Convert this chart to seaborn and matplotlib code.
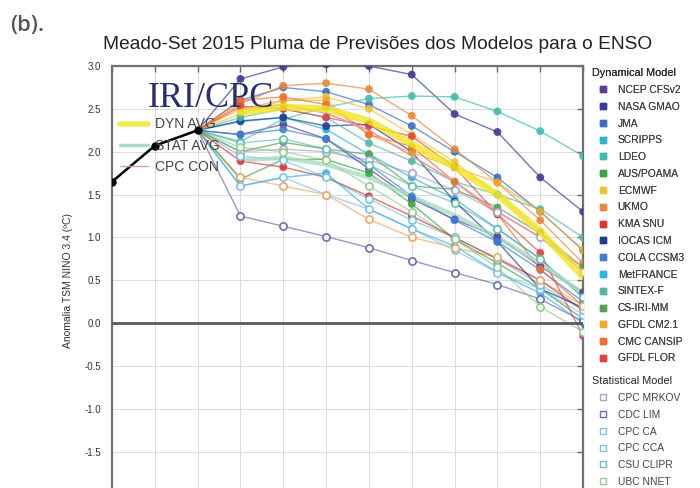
import numpy as np
import pandas as pd
import matplotlib
matplotlib.use("Agg")
import matplotlib.pyplot as plt
from matplotlib.lines import Line2D
import seaborn as sns

seasons = ["Jun", "Jul", "Ago", "SON", "OND", "NDJ", "DJF", "JFM", "FMA", "MAM", "AMJ", "MJJ"]
observed = [1.65, 2.07, 2.25]

dyn_models = ["NCEP CFSv2", "NASA GMAO", "JMA", "SCRIPPS", "LDEO", "AUS/POAMA", "ECMWF", "UKMO",
              "KMA SNU", "IOCAS ICM", "COLA CCSM3", "MetFRANCE", "SINTEX-F", "CS-IRI-MM",
              "GFDL CM2.1", "CMC CANSIP", "GFDL FLOR"]
dyn_colors = ["#5e3c99", "#3b3b9a", "#3a6fc2", "#2ab3d6", "#3fbcaa", "#3fa444", "#f1c232", "#e8883a",
              "#de3434", "#203c90", "#3b82d2", "#33b2f0", "#55b9a2", "#55a352",
              "#f0aa30", "#ef7030", "#e04444"]
dyn_values = [
    [2.20, 2.32, 2.15, 1.80, 1.45, 1.21, 1.01, 0.66, 0.36],
    [2.85, 2.99, 3.02, 3.00, 2.90, 2.44, 2.23, 1.70, 1.30],
    [2.60, 2.75, 2.70, 2.55, 2.30, 2.00, 1.70, 1.30, 0.85],
    [2.35, 2.40, 2.26, 1.97, 1.70, 1.45, 1.10, 0.75, 0.30],
    [2.12, 2.38, 2.52, 2.62, 2.65, 2.64, 2.47, 2.24, 1.95],
    [1.68, 1.91, 1.91, 1.75, 1.39, 0.98, 0.70, 0.40, 0.05],
    [2.44, 2.60, 2.64, 2.50, 2.20, 1.88, 1.50, 1.07, 0.60],
    [2.56, 2.77, 2.80, 2.73, 2.42, 2.03, 1.64, 1.20, 0.70],
    [1.89, 1.82, 1.70, 1.48, 1.25, 1.00, 0.75, 0.50, 0.15],
    [2.36, 2.40, 2.30, 2.32, 2.00, 1.42, 0.95, 0.40, 0.18],
    [2.20, 2.26, 2.15, 1.85, 1.48, 1.20, 0.95, 0.62, 0.25],
    [1.60, 1.70, 1.75, 1.33, 1.10, 0.90, 0.59, 0.35, 0.00],
    [2.40, 2.50, 2.40, 2.10, 1.89, 1.65, 1.50, 1.33, 1.00],
    [2.00, 2.11, 2.03, 1.97, 1.60, 1.56, 1.35, 1.05, 0.65],
    [2.50, 2.60, 2.60, 2.20, 1.99, 1.82, 1.64, 1.30, 0.85],
    [2.60, 2.64, 2.55, 2.20, 2.06, 1.65, 1.27, 0.63, 0.20],
    [2.53, 2.50, 2.40, 2.30, 2.18, 1.82, 1.27, 0.82, -0.15],
]

stat_models = ["CPC MRKOV", "CDC LIM", "CPC CA", "CPC CCA", "CSU CLIPR", "UBC NNET", "FSU REGR"]
stat_colors = ["#aaa4cf", "#6a6fb5", "#8cc0e8", "#74c6e0", "#68c0ae", "#98cc90", "#f0a868"]
stat_values = [
    [2.00, 2.03, 2.00, 1.90, 1.75, 1.55, 1.30, 1.00, 0.60],
    [1.25, 1.13, 1.01, 0.88, 0.73, 0.59, 0.45, 0.28, 0.02],
    [1.60, 1.70, 1.50, 1.33, 1.10, 0.85, 0.59, 0.40, 0.10],
    [1.95, 1.90, 1.70, 1.45, 1.20, 1.00, 0.75, 0.45, 0.15],
    [2.10, 2.15, 2.03, 1.85, 1.60, 1.40, 1.10, 0.75, 0.30],
    [2.05, 2.00, 1.90, 1.60, 1.30, 0.98, 0.65, 0.19, -0.10],
    [1.70, 1.60, 1.50, 1.21, 1.00, 0.88, 0.77, 0.50, 0.20],
]
# the reference legend is cropped after this many statistical entries
stat_shown = 6

dyn_avg = [2.46, 2.52, 2.50, 2.36, 2.09, 1.82, 1.50, 1.07, 0.54]
stat_avg = [1.90, 1.93, 1.85, 1.70, 1.48, 1.26, 1.00, 0.70, 0.35]
cpc_con = [2.50, 2.55, 2.45, 2.25, 1.95, 1.65, 1.30, 1.00, 0.65]


def long_frame(names, values):
    rows = []
    start = len(observed) - 1
    for name, vals in zip(names, values):
        rows.append((name, start, observed[-1]))
        for i, v in enumerate(vals):
            rows.append((name, start + 1 + i, v))
    return pd.DataFrame(rows, columns=["model", "x", "value"])


dyn_df = long_frame(dyn_models, dyn_values)
stat_df = long_frame(stat_models, stat_values)
dyn_pal = dict(zip(dyn_models, dyn_colors))
stat_pal = dict(zip(stat_models, stat_colors))
fx = np.arange(len(observed), len(seasons))

sns.set_style("white")
plt.rcParams["font.family"] = ["Liberation Sans", "DejaVu Sans"]

fig = plt.figure(figsize=(7, 4.88), dpi=100)
ax = fig.add_axes([0.16, -0.0133, 0.673, 0.878])

ax.grid(True, color="#dcdcdc", lw=0.7, zorder=0)

sns.lineplot(data=stat_df, x="x", y="value", hue="model", palette=stat_pal, estimator=None,
             lw=1, alpha=0.7, legend=False, ax=ax, zorder=2)
sns.lineplot(data=dyn_df, x="x", y="value", hue="model", palette=dyn_pal, estimator=None,
             lw=1, alpha=0.7, legend=False, ax=ax, zorder=2)
sns.scatterplot(data=dyn_df[dyn_df["x"] >= len(observed)], x="x", y="value", hue="model",
                palette=dyn_pal, s=32, linewidth=0, alpha=0.9, legend=False, ax=ax, zorder=4)
for name, col, vals in zip(stat_models, stat_colors, stat_values):
    ax.plot(fx, vals, "o", mfc="white", mec=col, ms=5.2, mew=1.2, zorder=4)

sns.lineplot(x=fx, y=stat_avg, color="#a6dcc0", lw=3, alpha=0.8, ax=ax, zorder=3)
sns.lineplot(x=fx, y=cpc_con, color="#e99aa5", lw=1.2, ax=ax, zorder=3)
sns.lineplot(x=fx, y=dyn_avg, color="#f2e424", lw=5, alpha=0.8, ax=ax, zorder=5)

ax.plot(np.arange(len(observed)), observed, "o-", color="black", lw=1.8, ms=5, zorder=6)
ax.axhline(0, color="#5a5a5a", lw=2, zorder=5)

# season labels sit below the cropped bottom edge of the reference, so keep them hidden
ax.set_xlim(0, len(seasons) - 1)
ax.set_ylim(-2.0, 3.0)
ax.set_xticks(np.arange(len(seasons)))
ax.set_xticklabels([])
yt = np.arange(-1.5, 3.01, 0.5)
ax.set_yticks(yt)
ax.set_yticklabels([f"{v:.1f}" for v in yt], fontsize=7, color="#333333")
ax.tick_params(axis="both", direction="in", length=4, width=1, color="#666666",
               top=True, right=True, pad=8)
for s in ax.spines.values():
    s.set_color("#707070")
    s.set_linewidth(1.6)
ax.set_xlabel("")
ax.set_ylabel("Anomalia TSM NINO 3.4 (ºC)", fontsize=7.5, color="#333333", labelpad=8)

ax.text(0.076, 0.905, "IRI/CPC", transform=ax.transAxes, family=["Liberation Serif", "DejaVu Serif"],
        fontsize=26, color="#2b2d6e", va="baseline", zorder=7)

avg_handles = [Line2D([], [], color="#f2e424", lw=4, alpha=0.8),
               Line2D([], [], color="#a6dcc0", lw=2.5),
               Line2D([], [], color="#e99aa5", lw=1)]
leg0 = ax.legend(avg_handles, ["DYN AVG", "STAT AVG", "CPC CON"], loc="upper left",
                 bbox_to_anchor=(0.017, 0.88), frameon=False, fontsize=10, labelspacing=0.52,
                 handlelength=2.0, handletextpad=0.5, borderpad=0, borderaxespad=0,
                 labelcolor="#444444")
leg0.set_zorder(7)
ax.add_artist(leg0)

dyn_handles = [Line2D([], [], ls="none", marker="s", ms=4.2, mfc=c, mec=c) for c in dyn_colors]
leg1 = ax.legend(dyn_handles, dyn_models, title="Dynamical Model", loc="upper left",
                 bbox_to_anchor=(1.019, 0.995), frameon=False, fontsize=7.4, title_fontsize=7.8,
                 alignment="left", labelspacing=0.66, handlelength=2.1, handletextpad=0.4,
                 borderpad=0, borderaxespad=0, labelcolor="#444444")
ax.add_artist(leg1)

fig.canvas.draw()
bb = leg1.get_window_extent().transformed(fig.transFigure.inverted())
stat_handles = [Line2D([], [], ls="none", marker="s", ms=4.2, mfc="white", mec=c, mew=1)
                for c in stat_colors[:stat_shown]]
fig.legend(stat_handles, stat_models[:stat_shown], title="Statistical Model", loc="upper left",
           bbox_to_anchor=(bb.x0, bb.y0 - 0.026), frameon=False, fontsize=7.4, title_fontsize=7.8,
           alignment="left", labelspacing=0.66, handlelength=2.1, handletextpad=0.4,
           borderpad=0, borderaxespad=0, labelcolor="#444444")

fig.text(0.539, 0.908, "Meado-Set 2015 Pluma de Previsões dos Modelos para o ENSO",
         ha="center", va="center", fontsize=13.8, color="#222222")
fig.text(0.014, 0.948, "(b).", ha="left", va="center", fontsize=16, color="#555555",
         family=["Open Sans", "DejaVu Sans"], weight="semibold")

fig.savefig("out.png", dpi=100)
